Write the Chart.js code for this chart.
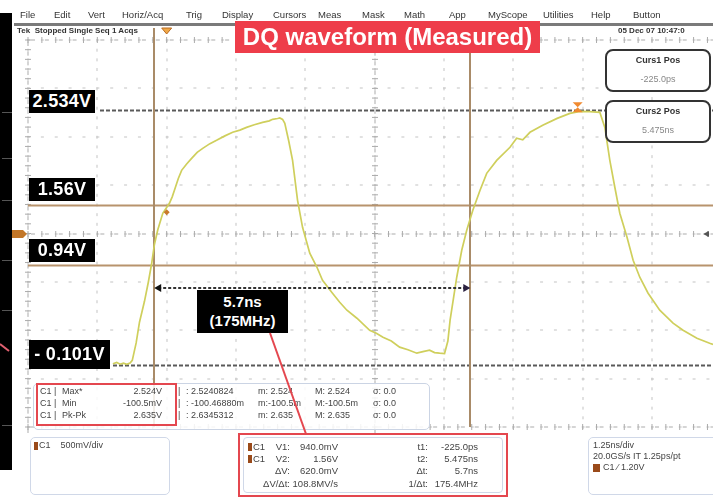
<!DOCTYPE html>
<html><head><meta charset="utf-8">
<script src="https://cdn.jsdelivr.net/npm/chart.js@4.4.0/dist/chart.umd.min.js"></script>
<style>
html,body{margin:0;padding:0;background:#fff;overflow:hidden;width:713px;height:500px;}
#wrap{position:relative;width:713px;height:500px;overflow:hidden;font-family:"Liberation Sans",Arial,sans-serif;}
canvas{position:absolute;left:0;top:0;}
.t{position:absolute;white-space:pre;font-size:9px;line-height:11px;color:#555;}
.b{font-weight:bold;}
.box{position:absolute;box-sizing:border-box;}
.lbl{position:absolute;box-sizing:border-box;background:#000;color:#fff;font-weight:bold;font-size:18px;text-align:center;letter-spacing:0.3px;}
.sq{position:absolute;width:4px;height:8px;background:#9a4a1a;}
</style></head><body>
<div id="wrap"><canvas id="c" width="713" height="500"></canvas></div>
<script>
// ---- waveform (time in ns, voltage in V) ----
const timeNs = [-0.97,-0.90,-0.84,-0.78,-0.72,-0.66,-0.62,-0.55,-0.49,-0.40,-0.33,-0.27,-0.22,-0.16,-0.07,0.05,0.10,0.14,0.21,0.27,0.36,0.45,0.55,0.65,0.78,0.90,1.05,1.19,1.32,1.44,1.58,1.73,1.85,1.91,2.00,2.04,2.09,2.13,2.20,2.27,2.36,2.45,2.52,2.58,2.71,2.81,2.99,3.12,3.25,3.43,3.66,3.78,3.90,4.05,4.20,4.35,4.51,4.62,4.74,4.83,4.92,5.01,5.07,5.11,5.23,5.32,5.41,5.52,5.65,5.77,5.95,6.19,6.31,6.42,6.55,6.78,7.04,7.27,7.45,7.63,7.81,7.90,7.99,8.08,8.17,8.30,8.41,8.53,8.68,8.89,9.13,9.31,9.56,9.79,9.85];
const voltsV = [-0.085,-0.072,-0.090,-0.080,-0.092,-0.078,-0.050,0.130,0.344,0.560,0.760,0.953,1.150,1.300,1.470,1.573,1.640,1.708,1.830,1.914,1.980,2.038,2.100,2.141,2.190,2.224,2.270,2.307,2.330,2.358,2.385,2.410,2.425,2.441,2.450,2.455,2.440,2.400,2.220,2.017,1.604,1.325,1.180,1.057,0.912,0.778,0.644,0.550,0.468,0.385,0.261,0.230,0.189,0.150,0.086,0.060,0.024,0.040,0.055,0.030,0.024,0.020,0.150,0.365,0.809,1.088,1.294,1.501,1.708,1.883,2.017,2.152,2.245,2.230,2.307,2.379,2.451,2.503,2.524,2.520,2.513,2.358,2.017,1.739,1.470,1.222,0.984,0.809,0.644,0.468,0.334,0.261,0.179,0.127,0.115];

// reference levels and their labels
const refLevelsV = [2.534, 1.56, 0.94, -0.101];
const refLabels = ["2.534V", "1.56V", "0.94V", "- 0.101V"];
// cursors
const cursorTimesNs = [-0.225, 5.475];
const cursorLabels = ["Curs1 Pos", "Curs2 Pos"];
const cursorValues = ["-225.0ps", "5.475ns"];
const deltaLabel = ["5.7ns", "(175MHz)"];
// scope settings
const nsPerDiv = 1.25, vPerDiv = 0.5;
const xMinNs = -2.5, xMaxNs = 9.85;          // visible window
const yMinV = -0.739, yMaxV = 3.261;         // 8 vertical divisions
const arrowLevelV = 0.695;
const triggerTimeNs = 0, triggerDotV = 1.48, peakMarkTimeNs = 7.41;

// measurement panel text
const measRows = [
  ["Max*", "2.524V", ": 2.5240824", "m: 2.524", "M: 2.524", "σ: 0.0"],
  ["Min", "-100.5mV", ": -100.46880m", "m:-100.5m", "M:-100.5m", "σ: 0.0"],
  ["Pk-Pk", "2.635V", ": 2.6345312", "m: 2.635", "M: 2.635", "σ: 0.0"]
];
const cursorRows = [
  ["V1:", "940.0mV", "t1:", "-225.0ps"],
  ["V2:", "1.56V", "t2:", "5.475ns"],
  ["ΔV:", "620.0mV", "Δt:", "5.7ns"],
  ["ΔV/Δt:", "108.8MV/s", "1/Δt:", "175.4MHz"]
];
const menuItems = ["File","Edit","Vert","Horiz/Acq","Trig","Display","Cursors","Meas","Mask","Math","App","MyScope","Utilities","Help","Button"];

const scopePlugin = {
  id: 'scope',
  beforeDatasetsDraw(chart) {
    const {ctx, chartArea: a, scales: {x, y}} = chart;
    ctx.save();
    const nX = Math.floor((xMaxNs - xMinNs) / nsPerDiv + 1e-6);
    const nY = Math.round((yMaxV - yMinV) / vPerDiv);
    // horizontal dotted graticule
    ctx.fillStyle = '#c4c4c4';
    for (let k = 0; k <= nY; k++) {
      const py = Math.round(y.getPixelForValue(yMinV + k * vPerDiv));
      for (let j = 0; j <= nX * 5 + 5; j++) {
        const px = x.getPixelForValue(xMinNs + j * nsPerDiv / 5);
        if (px > a.right) break;
        ctx.fillRect(px - 1, py - 0.5, 3, 1);
      }
    }
    // vertical dotted graticule
    for (let k = 0; k <= nX; k++) {
      const px = Math.round(x.getPixelForValue(xMinNs + k * nsPerDiv));
      for (let j = 0; j <= nY * 5; j++) {
        const py = y.getPixelForValue(yMinV + j * vPerDiv / 5);
        ctx.fillRect(px - 0.5, py - 1, 1, 3);
      }
    }
    // minor ticks on centre lines and frame
    ctx.fillStyle = '#ababab';
    [0, nY / 2, nY].forEach(k => {
      const py = Math.round(y.getPixelForValue(yMinV + k * vPerDiv));
      for (let j = 0; j <= nX * 5 + 5; j++) {
        const px = x.getPixelForValue(xMinNs + j * nsPerDiv / 5);
        if (px > a.right) break;
        ctx.fillRect(px - 0.5, py - 3, 1, 6);
        ctx.fillRect(px + 3, py - 0.5, 4, 1);
      }
    });
    [0, 5].forEach(k => {
      const px = Math.round(x.getPixelForValue(xMinNs + k * nsPerDiv));
      for (let j = 0; j <= nY * 5; j++) {
        const py = y.getPixelForValue(yMinV + j * vPerDiv / 5);
        ctx.fillRect(px - 3, py - 0.5, 6, 1);
        ctx.fillRect(px - 0.5, py + 2, 1, 4);
      }
    });
    // reference levels
    const refStyle = [
      {c: '#5a5a5a', dash: [4, 2], from: 100},
      {c: '#b8936d', dash: [], from: a.left},
      {c: '#b8936d', dash: [], from: a.left},
      {c: '#5a5a5a', dash: [4, 2], from: 113}
    ];
    refLevelsV.forEach((v, i) => {
      const py = Math.round(y.getPixelForValue(v)) + 0.5;
      ctx.beginPath();
      ctx.strokeStyle = refStyle[i].c;
      ctx.lineWidth = 2;
      ctx.setLineDash(refStyle[i].dash);
      ctx.moveTo(refStyle[i].from, py);
      ctx.lineTo(a.right, py);
      ctx.stroke();
    });
    // cursor lines
    ctx.setLineDash([]);
    ctx.strokeStyle = '#a98b68';
    ctx.lineWidth = 2;
    cursorTimesNs.forEach(t => {
      const px = Math.round(x.getPixelForValue(t));
      ctx.beginPath();
      ctx.moveTo(px, 28);
      ctx.lineTo(px, a.bottom);
      ctx.stroke();
    });
    ctx.restore();
  },
  afterDatasetsDraw(chart) {
    const {ctx, chartArea: a, scales: {x, y}} = chart;
    ctx.save();
    // delta-t arrow
    const x1 = x.getPixelForValue(cursorTimesNs[0]), x2 = x.getPixelForValue(cursorTimesNs[1]);
    const ay = Math.round(y.getPixelForValue(arrowLevelV));
    ctx.strokeStyle = '#333';
    ctx.lineWidth = 2;
    ctx.setLineDash([3, 2]);
    ctx.beginPath(); ctx.moveTo(x1 + 4, ay); ctx.lineTo(x2 - 4, ay); ctx.stroke();
    ctx.setLineDash([]);
    ctx.fillStyle = '#111';
    ctx.beginPath(); ctx.moveTo(x1, ay); ctx.lineTo(x1 + 7, ay - 4); ctx.lineTo(x1 + 7, ay + 4); ctx.fill();
    ctx.fillStyle = '#2a2040';
    ctx.beginPath(); ctx.moveTo(x2, ay); ctx.lineTo(x2 - 7, ay - 4); ctx.lineTo(x2 - 7, ay + 4); ctx.fill();
    // trigger position marker at top
    const tx = x.getPixelForValue(triggerTimeNs);
    ctx.fillStyle = '#f0a848';
    ctx.strokeStyle = '#b86a20';
    ctx.lineWidth = 1;
    ctx.beginPath(); ctx.moveTo(tx - 5, 28); ctx.lineTo(tx + 5, 28); ctx.lineTo(tx, 34); ctx.closePath(); ctx.fill(); ctx.stroke();
    // trigger dot on trace
    const ty = y.getPixelForValue(triggerDotV);
    ctx.fillStyle = '#c87a2a';
    ctx.beginPath(); ctx.moveTo(tx, ty - 3); ctx.lineTo(tx + 3, ty); ctx.lineTo(tx, ty + 3); ctx.lineTo(tx - 3, ty); ctx.fill();
    // peak cursor mark
    const mx = x.getPixelForValue(peakMarkTimeNs), my = y.getPixelForValue(refLevelsV[0]) - 3;
    ctx.fillStyle = '#f08a30';
    ctx.beginPath(); ctx.moveTo(mx - 5, my - 5); ctx.lineTo(mx + 5, my - 5); ctx.lineTo(mx, my); ctx.fill();
    ctx.beginPath(); ctx.moveTo(mx - 5, my + 5); ctx.lineTo(mx + 5, my + 5); ctx.lineTo(mx, my); ctx.fill();
    // channel offset marker on the left
    const cy = Math.round(y.getPixelForValue((yMinV + yMaxV) / 2));
    ctx.fillStyle = '#c27628';
    ctx.beginPath(); ctx.moveTo(12, cy - 4); ctx.lineTo(23, cy - 4); ctx.lineTo(27, cy); ctx.lineTo(23, cy + 4); ctx.lineTo(12, cy + 4); ctx.fill();
    // trigger level marker on the right
    ctx.fillStyle = '#555';
    ctx.beginPath(); ctx.moveTo(a.right - 10, cy); ctx.lineTo(a.right - 4, cy - 3); ctx.lineTo(a.right - 4, cy + 3); ctx.fill();
    // left black strip
    ctx.fillStyle = '#000';
    ctx.fillRect(0, 13, 12, 457);
    ctx.fillStyle = '#555';
    [112, 158, 200, 260, 310, 425].forEach(v => ctx.fillRect(2, v, 10, 1));
    ctx.strokeStyle = '#e06070'; ctx.lineWidth = 2;
    ctx.beginPath(); ctx.moveTo(0, 344); ctx.lineTo(9, 351); ctx.stroke();
    ctx.restore();
  }
};

const chart = new Chart(document.getElementById('c'), {
  type: 'scatter',
  data: {datasets: [{
    data: timeNs.map((t, i) => ({x: t, y: voltsV[i]})),
    showLine: true, borderColor: '#cfcf5c', borderWidth: 1.7, pointRadius: 0, tension: 0
  }]},
  options: {
    responsive: false, animation: false, devicePixelRatio: 1,
    layout: {padding: {left: 28, top: 40, right: 0, bottom: 73}},
    plugins: {legend: {display: false}, tooltip: {enabled: false}, title: {display: false}},
    scales: {
      x: {type: 'linear', min: xMinNs, max: xMaxNs, display: false},
      y: {type: 'linear', min: yMinV, max: yMaxV, display: false}
    }
  },
  plugins: [scopePlugin]
});

// ---- HTML text overlays ----
const wrap = document.getElementById('wrap');
function T(x, yc, s, cls, style) {
  const d = document.createElement('div');
  d.className = 't' + (cls ? ' ' + cls : '');
  d.textContent = s;
  d.style.left = x + 'px';
  d.style.top = (yc - 6) + 'px';
  if (style) Object.assign(d.style, style);
  wrap.appendChild(d);
  return d;
}
function R(x, yc, s, cls, style) { // right aligned at x
  const d = T(0, yc, s, cls, style);
  d.style.left = ''; d.style.right = (713 - x) + 'px';
  return d;
}
function B(l, t, w, h, style) {
  const d = document.createElement('div');
  d.className = 'box';
  Object.assign(d.style, {left: l + 'px', top: t + 'px', width: w + 'px', height: h + 'px'}, style || {});
  wrap.appendChild(d);
  return d;
}

// menu and status lines
const menuX = [20, 54, 88, 122, 186, 222, 273, 318, 362, 404, 449, 488, 543, 591, 633];
menuItems.forEach((m, i) => T(menuX[i], 15, m, '', {color: '#333', fontSize: '9.5px'}));
B(14, 23, 699, 3, {background: '#7a7a7a'});
T(17, 31, 'Tek  Stopped Single Seq 1 Acqs', 'b', {color: '#333', fontSize: '8px'});
T(618, 31, '05 Dec 07 10:47:0', 'b', {color: '#333', fontSize: '8px'});

// title
const title = B(235, 21, 305, 32, {background: '#ee3d4a'});
title.innerHTML = '<div style="color:#fff;font-weight:bold;font-size:24px;line-height:32px;text-align:center;white-space:nowrap;">DQ waveform (Measured)</div>';

// level labels positioned from the y scale
const yS = chart.scales.y;
const lblGeom = [{off: -20, h: 23, w: 66}, {off: -27, h: 23, w: 66}, {off: -26, h: 23, w: 66}, {off: -25, h: 29, w: 81}];
refLevelsV.forEach((v, i) => {
  const py = yS.getPixelForValue(v);
  const d = document.createElement('div');
  d.className = 'lbl';
  d.textContent = refLabels[i];
  Object.assign(d.style, {left: '29px', top: (py + lblGeom[i].off) + 'px', width: lblGeom[i].w + 'px', height: lblGeom[i].h + 'px', lineHeight: lblGeom[i].h + 'px'});
  wrap.appendChild(d);
});

// delta box
const db = B(197, 290, 91, 43, {background: '#000'});
db.innerHTML = '<div style="color:#fff;font-weight:bold;font-size:15px;line-height:19px;text-align:center;padding-top:2px;">' + deltaLabel[0] + '<br>' + deltaLabel[1] + '</div>';

// cursor position boxes
[49, 100].forEach((top, i) => {
  B(605, top, 106, 43, {border: '2px solid #333', borderRadius: '8px', background: '#fff'});
  T(605, top + 12, cursorLabels[i], 'b', {width: '106px', textAlign: 'center', color: '#333'});
  T(605, top + 31, cursorValues[i], '', {width: '106px', textAlign: 'center', color: '#888'});
});

// measurement panel
B(33, 383, 397, 47, {border: '1px solid #cbd4e4', borderRadius: '5px', background: 'rgba(255,255,255,0.85)'});
B(36, 383, 141, 43, {border: '2px solid #e4474f'});
const measY = [392, 404, 416];
const mf = {fontSize: '9px', color: '#444'};
measRows.forEach((r, i) => {
  const yc = measY[i];
  T(40, yc, 'C1 |', '', mf);
  T(62, yc, r[0], '', mf);
  R(162, yc, r[1], '', mf);
  T(178, yc, '|', '', mf);
  T(186, yc, r[2], '', mf);
  T(258, yc, r[3], '', mf);
  T(315, yc, r[4], '', mf);
  T(373, yc, r[5], '', mf);
});

// channel panel
B(30, 437, 140, 58, {border: '1px solid #d0d8e8', borderRadius: '5px'});
const s1 = document.createElement('div'); s1.className = 'sq'; s1.style.left = '34px'; s1.style.top = '442px'; wrap.appendChild(s1);
T(39, 446, 'C1    500mV/div', '', mf);

// cursor readout panel
B(238, 433, 270, 64, {border: '2px solid #e4474f'});
B(243, 437, 260, 56, {border: '1px solid #d0d8e8', borderRadius: '4px'});
const curY = [447, 459, 471, 484];
const cf = {fontSize: '9.5px', color: '#444'};
cursorRows.forEach((r, i) => {
  const yc = curY[i];
  if (i < 2) {
    const s = document.createElement('div'); s.className = 'sq'; s.style.left = '248px'; s.style.top = (yc - 4) + 'px'; wrap.appendChild(s);
    T(253, yc, 'C1', '', cf);
  }
  R(290, yc, r[0], '', cf);
  R(338, yc, r[1], '', cf);
  R(428, yc, r[2], '', cf);
  R(478, yc, r[3], '', cf);
});

// timebase panel
B(588, 437, 135, 58, {border: '1px solid #d0d8e8', borderRadius: '5px'});
T(593, 446, '1.25ns/div', '', mf);
T(593, 457, '20.0GS/s IT 1.25ps/pt', '', mf);
const s3 = document.createElement('div'); s3.className = 'sq'; s3.style.left = '593px'; s3.style.top = '464px'; s3.style.width = '7px'; wrap.appendChild(s3);
T(603, 468, 'C1 ⁄ 1.20V', '', mf);

// red leader line from delta box to cursor panel
const lx1 = 270, ly1 = 333, lx2 = 306, ly2 = 434;
const len = Math.hypot(lx2 - lx1, ly2 - ly1), ang = Math.atan2(ly2 - ly1, lx2 - lx1) * 180 / Math.PI;
B(lx1, ly1 - 1, len, 2, {background: '#e4474f', transformOrigin: '0 50%', transform: 'rotate(' + ang + 'deg)', zIndex: 5});
</script>
</body></html>
